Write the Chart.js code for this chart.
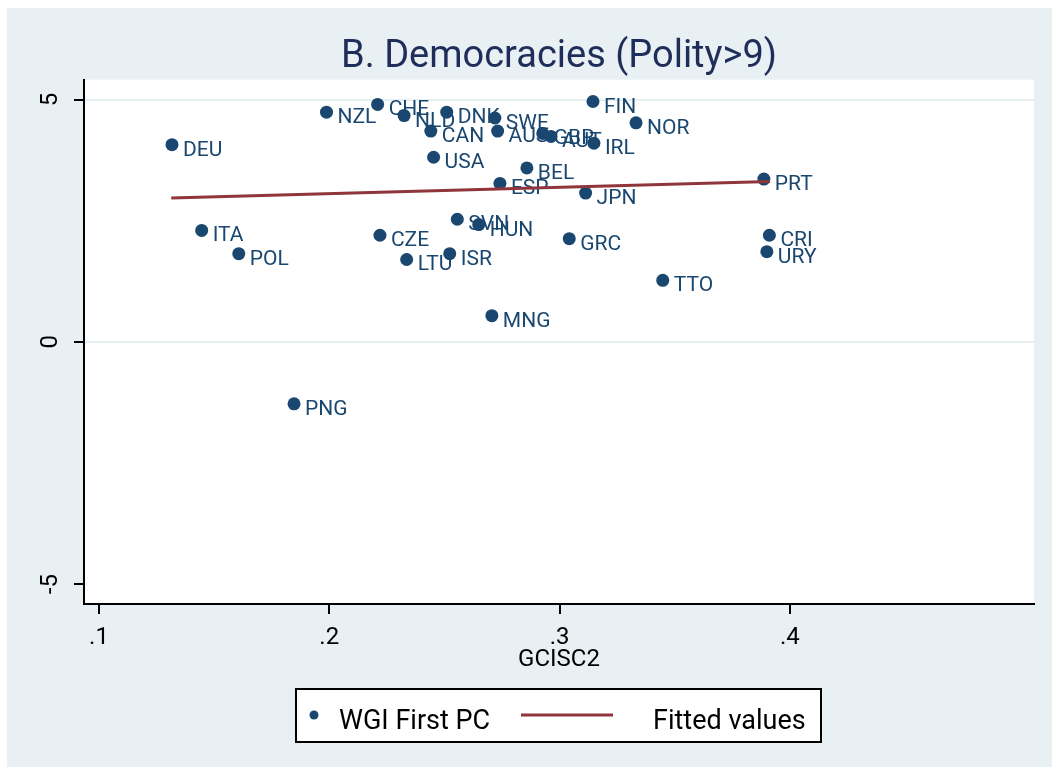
<!DOCTYPE html>
<html>
<head>
<meta charset="utf-8">
<script src="https://cdn.jsdelivr.net/npm/chart.js@4.4.0/dist/chart.umd.min.js"></script>
<style>
  html, body { margin: 0; padding: 0; background: #fff; }
</style>
</head>
<body>
<canvas id="chart" width="1052" height="769"></canvas>
<script>
// Country codes and their values
const countries = ['DEU', 'ITA', 'POL', 'PNG', 'NZL', 'CHE', 'CZE', 'NLD', 'LTU', 'CAN',
  'USA', 'DNK', 'ISR', 'SVN', 'HUN', 'MNG', 'SWE', 'AUS', 'ESP', 'BEL',
  'GBR', 'AUT', 'GRC', 'JPN', 'FIN', 'IRL', 'NOR', 'TTO', 'PRT', 'CRI', 'URY'];
const gciValues = [0.1317, 0.1446, 0.1607, 0.1847, 0.1988, 0.2210, 0.2220, 0.2325, 0.2336, 0.2441,
  0.2453, 0.2510, 0.2523, 0.2556, 0.2649, 0.2706, 0.2719, 0.2731, 0.2741, 0.2858,
  0.2927, 0.2963, 0.3042, 0.3113, 0.3145, 0.3149, 0.3332, 0.3448, 0.3887, 0.3911, 0.3900];
const wgiValues = [4.07, 2.30, 1.82, -1.28, 4.74, 4.90, 2.20, 4.67, 1.70, 4.35,
  3.81, 4.74, 1.82, 2.53, 2.42, 0.54, 4.62, 4.35, 3.27, 3.59,
  4.30, 4.24, 2.13, 3.07, 4.96, 4.10, 4.52, 1.27, 3.36, 2.20, 1.86];

// Fitted values line (end points)
const fitX = [0.1314, 0.3914];
const fitY = [2.97, 3.31];

const xTicks = [0.1, 0.2, 0.3, 0.4];
const xTickLabels = ['.1', '.2', '.3', '.4'];
const yTicks = [-5, 0, 5];
const yTickLabels = ['-5', '0', '5'];

const FONT = 'Roboto';
const NAVY = '#1a476f';
const MAROON = '#90353b';
const BG = '#e9f0f3';

// background, plot region, country labels, rotated y labels and legend
const decor = {
  id: 'decor',
  beforeDraw(chart) {
    const { ctx, chartArea: a } = chart;
    ctx.save();
    ctx.fillStyle = '#fff';
    ctx.fillRect(0, 0, chart.width, chart.height);
    ctx.fillStyle = BG;
    ctx.fillRect(7, 8, chart.width - 7, chart.height - 10);
    ctx.fillStyle = '#fff';
    ctx.fillRect(a.left, a.top, a.right - a.left, a.bottom - a.top);
    ctx.restore();
  },
  afterDatasetDraw(chart, args) {
    if (args.index !== 0) return;
    const ctx = chart.ctx;
    ctx.save();
    ctx.font = '21px ' + FONT;
    ctx.fillStyle = NAVY;
    ctx.textBaseline = 'alphabetic';
    args.meta.data.forEach((pt, i) => {
      ctx.fillText(countries[i], pt.x + 11, pt.y + 11);
    });
    ctx.restore();
  },
  afterDraw(chart) {
    const ctx = chart.ctx;
    const y = chart.scales.y;
    ctx.save();
    // y tick labels, rotated like the original
    ctx.font = '24px ' + FONT;
    ctx.fillStyle = '#000';
    ctx.textAlign = 'center';
    ctx.textBaseline = 'middle';
    yTicks.forEach((v, i) => {
      ctx.save();
      ctx.translate(51, y.getPixelForValue(v));
      ctx.rotate(-Math.PI / 2);
      ctx.fillText(yTickLabels[i], 0, 0);
      ctx.restore();
    });

    // legend box
    ctx.fillStyle = '#fff';
    ctx.fillRect(296, 689, 525, 53);
    ctx.strokeStyle = '#000';
    ctx.lineWidth = 2;
    ctx.strokeRect(296, 689, 525, 53);
    ctx.fillStyle = NAVY;
    ctx.beginPath();
    ctx.arc(314, 715, 4.5, 0, Math.PI * 2);
    ctx.fill();
    ctx.strokeStyle = MAROON;
    ctx.lineWidth = 3;
    ctx.beginPath();
    ctx.moveTo(521, 715);
    ctx.lineTo(613, 715);
    ctx.stroke();
    ctx.fillStyle = '#000';
    ctx.textAlign = 'left';
    ctx.textBaseline = 'alphabetic';
    ctx.font = '27px ' + FONT;
    ctx.fillText(chart.data.datasets[0].label, 339, 729);
    ctx.fillText(chart.data.datasets[1].label, 653, 729);
    ctx.restore();
  }
};

new Chart(document.getElementById('chart'), {
  type: 'scatter',
  data: {
    datasets: [{
      label: 'WGI First PC',
      data: countries.map((c, i) => ({ x: gciValues[i], y: wgiValues[i] })),
      backgroundColor: NAVY,
      borderColor: NAVY,
      borderWidth: 0,
      pointRadius: 6.5,
      order: 1
    }, {
      type: 'line',
      label: 'Fitted values',
      data: fitX.map((x, i) => ({ x: x, y: fitY[i] })),
      borderColor: MAROON,
      borderWidth: 3,
      pointRadius: 0,
      fill: false,
      tension: 0,
      order: 0
    }]
  },
  options: {
    responsive: false,
    animation: false,
    layout: { padding: { left: 0, top: 0, right: 18, bottom: 0 } },
    scales: {
      x: {
        type: 'linear',
        min: 0.0935,
        max: 0.506,
        afterBuildTicks: s => { s.ticks = xTicks.map(v => ({ value: v })); },
        afterFit: s => { s.height = 165; },
        grid: { drawOnChartArea: false, tickColor: '#000', tickLength: 10, lineWidth: 2 },
        border: { color: '#000', width: 2 },
        ticks: {
          font: { family: FONT, size: 24 },
          color: '#000',
          padding: 10,
          maxRotation: 0,
          autoSkip: false,
          callback: v => xTickLabels[xTicks.indexOf(v)]
        },
        title: {
          display: true,
          text: 'GCISC2',
          color: '#000',
          font: { family: FONT, size: 24 },
          padding: { top: 0, bottom: 95 }
        }
      },
      y: {
        type: 'linear',
        min: -5.41,
        max: 5.41,
        afterBuildTicks: s => { s.ticks = yTicks.map(v => ({ value: v })); },
        afterFit: s => { s.width = 84; },
        grid: {
          color: c => (c.tick && c.tick.value === -5) ? 'rgba(0,0,0,0)' : '#e6eff2',
          lineWidth: 2,
          tickColor: '#000',
          tickLength: 10
        },
        border: { color: '#000', width: 2 },
        ticks: { display: false }
      }
    },
    plugins: {
      legend: { display: false },
      tooltip: { enabled: false },
      title: {
        display: true,
        fullSize: false,
        text: 'B. Democracies (Polity>9)',
        color: '#1f2d5a',
        font: { family: FONT, size: 38, weight: 'normal', lineHeight: 1.15 },
        padding: { top: 36, bottom: 0 }
      }
    }
  },
  plugins: [decor]
});
</script>
</body>
</html>
